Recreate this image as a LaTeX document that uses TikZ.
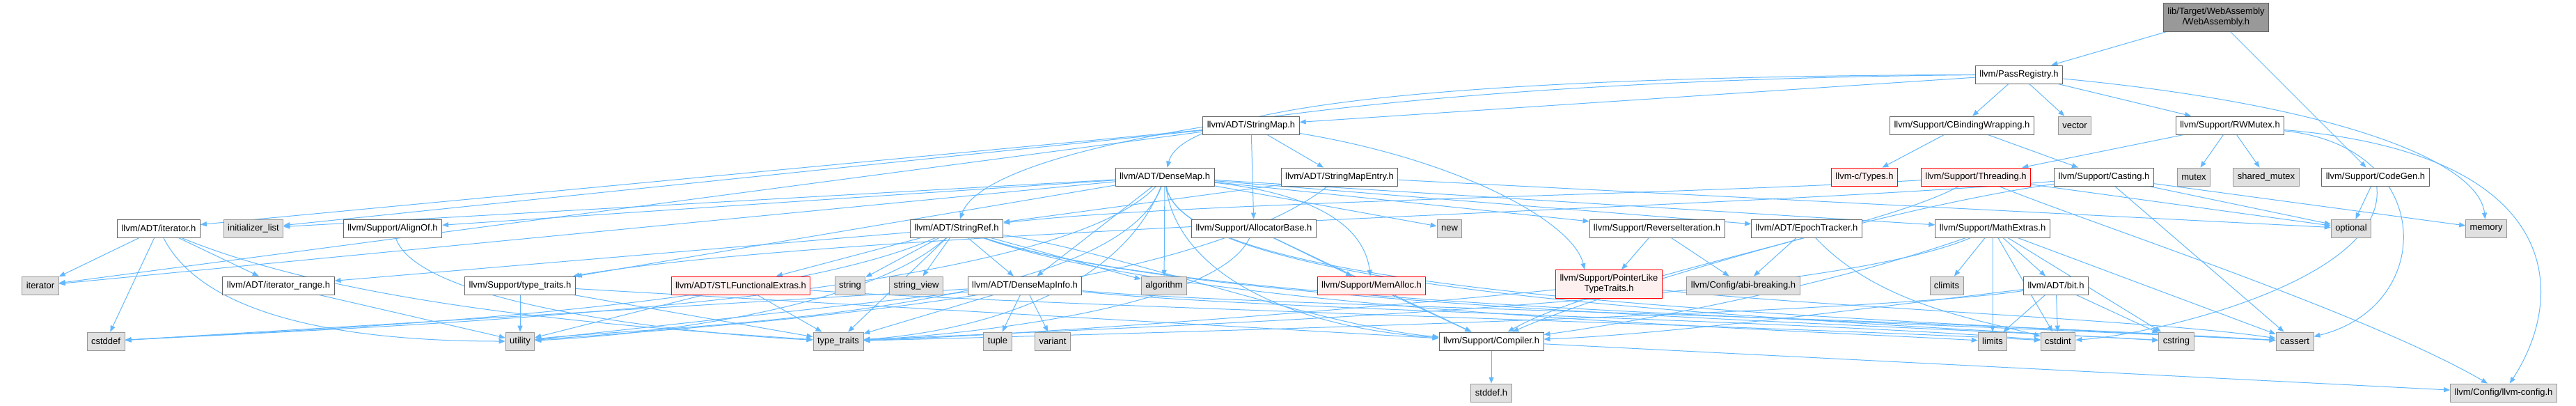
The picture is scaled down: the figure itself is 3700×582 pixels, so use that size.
\documentclass[tikz,border=0pt]{standalone}
\usepackage{fontspec}
\setmainfont{Liberation Sans}
\usetikzlibrary{arrows.meta,backgrounds}
\definecolor{edgeblue}{HTML}{63B8FF}
\definecolor{sysfill}{HTML}{E0E0E0}
\definecolor{sysdraw}{HTML}{999999}
\definecolor{hdrdraw}{HTML}{666666}
\definecolor{cutfill}{HTML}{FFF0F0}
\definecolor{rootfill}{HTML}{999999}

\begin{document}
\begin{tikzpicture}[x=1pt, y=-1pt, >={Triangle[length=9pt,width=7pt]},
  hdr/.style={draw=hdrdraw, fill=white, line width=0.9pt, inner xsep=6pt, inner ysep=2pt, minimum height=26pt, font=\fontsize{13}{15}\selectfont, align=center},
  sys/.style={hdr, draw=sysdraw, fill=sysfill},
  cut/.style={hdr, draw=red, fill=cutfill},
  root/.style={hdr, fill=rootfill, minimum height=41pt},
  dep/.style={->, draw=edgeblue, line width=1pt}]
  \useasboundingbox (0,0) rectangle (3700,582);
  % rows, top to bottom
  \node[root] (wa) at (3183,25) {lib/Target/WebAssembly\\/WebAssembly.h};
  \node[hdr] (pr) at (2900,107) {llvm/PassRegistry.h};
  \node[hdr] (strmap) at (1797,180) {llvm/ADT/StringMap.h};
  \node[hdr] (cbind) at (2818,180) {llvm/Support/CBindingWrapping.h};
  \node[sys] (vector) at (2980,180) {vector};
  \node[hdr] (rwmutex) at (3203,180) {llvm/Support/RWMutex.h};
  \node[hdr] (densemap) at (1673,254) {llvm/ADT/DenseMap.h};
  \node[hdr] (strmapentry) at (1924,254) {llvm/ADT/StringMapEntry.h};
  \node[cut] (ctypes) at (2678,254) {llvm-c/Types.h};
  \node[cut] (threading) at (2838,254) {llvm/Support/Threading.h};
  \node[hdr] (casting) at (3022,254) {llvm/Support/Casting.h};
  \node[sys] (mutex) at (3151,254) {mutex};
  \node[sys] (sharedmutex) at (3255,254) {shared\_mutex};
  \node[hdr] (codegen) at (3412,254) {llvm/Support/CodeGen.h};
  \node[hdr] (iterh) at (228,328) {llvm/ADT/iterator.h};
  \node[sys] (initlist) at (364,328) {initializer\_list};
  \node[hdr] (alignof) at (564,328) {llvm/Support/AlignOf.h};
  \node[hdr] (strref) at (1374,328) {llvm/ADT/StringRef.h};
  \node[hdr] (allocbase) at (1801,328) {llvm/Support/AllocatorBase.h};
  \node[sys] (newhdr) at (2082,328) {new};
  \node[hdr] (reviter) at (2380,328) {llvm/Support/ReverseIteration.h};
  \node[hdr] (epoch) at (2595,328) {llvm/ADT/EpochTracker.h};
  \node[hdr] (mathext) at (2862,328) {llvm/Support/MathExtras.h};
  \node[sys] (optional) at (3377,328) {optional};
  \node[sys] (memory) at (3571,328) {memory};
  \node[sys] (iterator) at (58,410) {iterator};
  \node[hdr] (iterrange) at (400,410) {llvm/ADT/iterator\_range.h};
  \node[hdr] (stypetraits) at (747,410) {llvm/Support/type\_traits.h};
  \node[cut] (stlfunc) at (1064,410) {llvm/ADT/STLFunctionalExtras.h};
  \node[sys] (string) at (1221,410) {string};
  \node[sys] (stringview) at (1316,410) {string\_view};
  \node[hdr] (densemapinfo) at (1472,410) {llvm/ADT/DenseMapInfo.h};
  \node[sys] (algorithm) at (1672,410) {algorithm};
  \node[cut] (memalloc) at (1970,410) {llvm/Support/MemAlloc.h};
  \node[cut, minimum height=41pt] (pointerlike) at (2311,408) {llvm/Support/PointerLike\\TypeTraits.h};
  \node[sys] (abibreak) at (2504,410) {llvm/Config/abi-breaking.h};
  \node[sys] (climits) at (2796,410) {climits};
  \node[hdr] (bith) at (2953,410) {llvm/ADT/bit.h};
  \node[sys] (cstddef) at (152,490) {cstddef};
  \node[sys] (utility) at (747,490) {utility};
  \node[sys] (typetraits) at (1204,490) {type\_traits};
  \node[sys] (tuple) at (1433,490) {tuple};
  \node[sys] (variant) at (1512,490) {variant};
  \node[hdr] (compiler) at (2142,490) {llvm/Support/Compiler.h};
  \node[sys] (limits) at (2862,490) {limits};
  \node[sys] (cstdint) at (2956,490) {cstdint};
  \node[sys] (cstring) at (3126,490) {cstring};
  \node[sys] (cassert) at (3296,490) {cassert};
  \node[sys] (stddef) at (2142,564) {stddef.h};
  \node[sys] (llvmconfig) at (3596,564) {llvm/Config/llvm-config.h};

  \begin{scope}[on background layer]
  % root and PassRegistry
  \draw[dep] (wa) -- (pr); \draw[dep] (wa) -- (codegen);
  \draw[dep] (pr) -- (strmap); \draw[dep] (pr) -- (cbind); \draw[dep] (pr) -- (vector); \draw[dep] (pr) -- (rwmutex);
  \draw[dep] (pr) .. controls (2100,110) and (1700,150) .. (densemap);
  \draw[dep] (pr) .. controls (2000,115) and (1420,200) .. (strref);
  \draw[dep] (pr) .. controls (3350,150) and (3560,230) .. (memory);
  % StringMap, StringMapEntry
  \draw[dep] (strmap) -- (strmapentry); \draw[dep] (strmap) -- (allocbase);
  \draw[dep] (strmap) -- (iterh); \draw[dep] (strmap) -- (initlist); \draw[dep] (strmap) -- (iterator);
  \draw[dep] (strmap) .. controls (2100,230) and (2260,320) .. ([xshift=-35pt]pointerlike.north);
  \draw[dep] (strmapentry) -- (strref); \draw[dep] (strmapentry) -- (optional);
  \draw[dep] (strmapentry) .. controls (1700,430) and (1000,470) .. (utility);
  % DenseMap
  \draw[dep] (densemap) -- (densemapinfo); \draw[dep] (densemap) -- (epoch); \draw[dep] (densemap) -- (alignof);
  \draw[dep] (densemap) -- (mathext); \draw[dep] (densemap) -- (reviter); \draw[dep] (densemap) -- (stypetraits);
  \draw[dep] (densemap) -- (algorithm); \draw[dep] (densemap) -- (initlist); \draw[dep] (densemap) -- (iterator);
  \draw[dep] (densemap) -- (newhdr);
  \draw[dep] (densemap) .. controls (1900,280) and (1960,330) .. (memalloc);
  \draw[dep] (densemap) .. controls (1690,390) and (1850,470) .. (compiler);
  \draw[dep] (densemap) .. controls (1700,420) and (2500,450) .. (cassert);
  \draw[dep] (densemap) .. controls (1700,420) and (2500,455) .. (cstring);
  \draw[dep] (densemap) .. controls (1600,440) and (1350,480) .. (typetraits);
  \draw[dep] (densemap) .. controls (1600,460) and (900,470) .. (utility);
  \draw[dep] (densemap) .. controls (1500,440) and (500,470) .. (cstddef);
  % StringRef
  \draw[dep] (strref) -- (densemapinfo); \draw[dep] (strref) -- (stlfunc); \draw[dep] (strref) -- (iterrange);
  \draw[dep] (strref) -- (algorithm); \draw[dep] (strref) -- (string); \draw[dep] (strref) -- (stringview);
  \draw[dep] (strref) -- (typetraits);
  \draw[dep] (strref) .. controls (1600,360) and (1900,470) .. (compiler);
  \draw[dep] (strref) .. controls (1700,440) and (2600,455) .. (cassert);
  \draw[dep] (strref) .. controls (1700,440) and (2600,460) .. (cstring);
  \draw[dep] (strref) .. controls (1700,445) and (2500,470) .. (limits);
  \draw[dep] (strref) .. controls (1100,450) and (400,475) .. (cstddef);
  \draw[dep] (strref) .. controls (1250,440) and (950,480) .. (utility);
  % iterator.h and small headers
  \draw[dep] (iterh) -- (iterrange); \draw[dep] (iterh) -- (cstddef); \draw[dep] (iterh) -- (iterator);
  \draw[dep] (iterh) .. controls (300,470) and (550,490) .. (utility);
  \draw[dep] (iterh) .. controls (500,440) and (900,470) .. (typetraits);
  \draw[dep] (iterrange) -- (utility);
  \draw[dep] (alignof) .. controls (600,440) and (1000,480) .. (typetraits);
  \draw[dep] (stypetraits) -- (utility); \draw[dep] (stypetraits) -- (typetraits); \draw[dep] (stypetraits) -- (compiler);
  \draw[dep] (stlfunc) -- (utility); \draw[dep] (stlfunc) -- (typetraits);
  \draw[dep] (stlfunc) .. controls (1500,440) and (2600,470) .. (cstdint);
  \draw[dep] (densemapinfo) -- (tuple); \draw[dep] (densemapinfo) -- (variant); \draw[dep] (densemapinfo) -- (typetraits);
  \draw[dep] (densemapinfo) -- (utility); \draw[dep] (densemapinfo) -- (cstddef);
  \draw[dep] (densemapinfo) .. controls (1800,440) and (2600,450) .. (cassert);
  \draw[dep] (densemapinfo) .. controls (1800,445) and (2600,460) .. (cstdint);
  \draw[dep] (allocbase) -- (memalloc); \draw[dep] (allocbase) -- (compiler);
  \draw[dep] (allocbase) .. controls (1750,440) and (1400,480) .. (typetraits);
  \draw[dep] (memalloc) -- (compiler);
  \draw[dep] (reviter) -- (abibreak); \draw[dep] (reviter) -- (pointerlike);
  \draw[dep] (pointerlike) .. controls (2000,440) and (1500,480) .. (typetraits);
  \draw[dep] (pointerlike) .. controls (2600,440) and (3100,460) .. (cassert);
  \draw[dep] (epoch) -- (abibreak);
  \draw[dep] (epoch) .. controls (2700,440) and (2850,460) .. (cstdint);
  % MathExtras, bit, Compiler
  \draw[dep] (mathext) -- (bith); \draw[dep] (mathext) -- (climits); \draw[dep] (mathext) -- (limits);
  \draw[dep] (mathext) -- (cstring); \draw[dep] (mathext) -- (cassert); \draw[dep] (mathext) -- (cstdint);
  \draw[dep] (mathext) .. controls (2600,420) and (2300,470) .. (compiler);
  \draw[dep] (mathext) .. controls (2600,440) and (1600,470) .. (typetraits);
  \draw[dep] (bith) -- (limits); \draw[dep] (bith) -- (cstdint); \draw[dep] (bith) -- (cstring);
  \draw[dep] (bith) .. controls (2700,440) and (2400,480) .. (compiler);
  \draw[dep] (bith) .. controls (2700,450) and (1600,480) .. (typetraits);
  \draw[dep] (compiler) -- (stddef); \draw[dep] (compiler) -- (llvmconfig);
  % CBindingWrapping, Casting, RWMutex, Threading, CodeGen
  \draw[dep] (cbind) -- (ctypes); \draw[dep] (cbind) -- (casting);
  \draw[dep] (casting) -- (optional); \draw[dep] (casting) -- (memory); \draw[dep] (casting) -- (cassert);
  \draw[dep] (casting) .. controls (2700,300) and (2300,420) .. (compiler);
  \draw[dep] (casting) .. controls (2500,300) and (1200,330) .. (stypetraits);
  \draw[dep] (rwmutex) -- (threading); \draw[dep] (rwmutex) -- (mutex); \draw[dep] (rwmutex) -- (sharedmutex);
  \draw[dep] (rwmutex) .. controls (3500,210) and (3500,440) .. (cassert);
  \draw[dep] (rwmutex) .. controls (3680,220) and (3690,420) .. (llvmconfig);
  \draw[dep] (threading) .. controls (2400,280) and (1700,290) .. (strref);
  \draw[dep] (threading) -- (optional);
  \draw[dep] (threading) .. controls (2700,330) and (2300,400) .. (compiler);
  \draw[dep] (threading) .. controls (3000,320) and (3400,450) .. (llvmconfig);
  \draw[dep] (codegen) -- (optional);
  \draw[dep] (codegen) .. controls (3430,400) and (3100,480) .. (cstdint);
  \end{scope}
\end{tikzpicture}
\end{document}
